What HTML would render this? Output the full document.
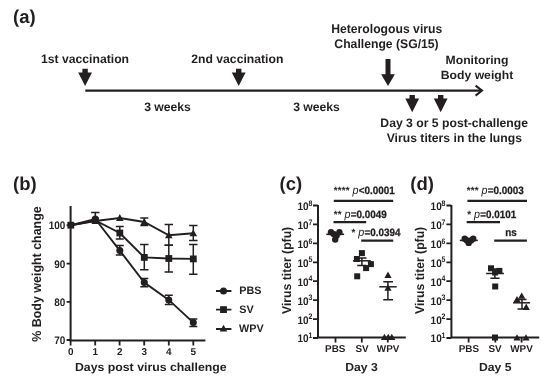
<!DOCTYPE html>
<html lang="en">
<head>
<meta charset="utf-8">
<title>Figure</title>
<style>
html,body{margin:0;padding:0;background:#fff;}
svg{display:block;will-change:transform;}
text{text-rendering:geometricPrecision;font-family:"Liberation Sans",Arial,sans-serif;font-weight:bold;fill:#231f20;}
.lbl{font-size:18.5px;}
.t{font-size:12.2px;}
.ax{font-size:9.95px;}
.axt{font-size:12.2px;}
.st{font-size:9.9px;stroke:#231f20;stroke-width:0.25px;}
.as{font-size:9.8px;letter-spacing:0.15px;stroke:none;}
.sup{font-size:7px;}
.ln{stroke:#231f20;fill:none;}
.sh{fill:#231f20;stroke:none;}
.it{font-style:italic;font-weight:normal;font-size:10.8px;stroke:none;}
</style>
</head>
<body>
<svg width="550" height="379" viewBox="0 0 550 379">
<rect x="0" y="0" width="550" height="379" fill="#ffffff"/>
<defs>
  <path id="arr" d="M-2.7,-8.5 h5.4 v3.6 h4.2 l-6.9,13.6 l-6.9,-13.6 h4.2 z"/>
  <circle id="ci" r="3.5"/>
  <rect id="sq" x="-3.4" y="-3.4" width="6.8" height="6.8"/>
  <path id="tr" d="M0,-3.9 L3.8,2.9 L-3.8,2.9 Z"/>
  <circle id="ci2" r="3.2"/>
  <rect id="sq2" x="-3" y="-3" width="6" height="6"/>
  <path id="tr2" d="M0,-3.6 L3.6,2.7 L-3.6,2.7 Z"/>
</defs>

<!-- ================= panel (a) ================= -->
<g id="panel-a">
  <text class="lbl" x="13" y="22.8">(a)</text>
  <text class="t" transform="translate(85,62.6) scale(1,1)" text-anchor="middle">1st vaccination</text>
  <text class="t" transform="translate(237.3,62.6) scale(1,1)" text-anchor="middle">2nd vaccination</text>
  <text class="t" transform="translate(386.7,33) scale(1,1.03)" text-anchor="middle">Heterologous virus</text>
  <text class="t" transform="translate(386.5,48.3) scale(1,1.03)" text-anchor="middle">Challenge (SG/15)</text>
  <text class="t" transform="translate(477,64.4) scale(1,0.97)" text-anchor="middle">Monitoring</text>
  <text class="t" transform="translate(477,79.3) scale(1,0.97)" text-anchor="middle">Body weight</text>
  <text class="t" transform="translate(167.5,111) scale(1,1)" text-anchor="middle">3 weeks</text>
  <text class="t" transform="translate(316.5,111) scale(1,1)" text-anchor="middle">3 weeks</text>
  <text class="t" transform="translate(454.2,127.3) scale(1,1)" text-anchor="middle">Day 3 or 5 post-challenge</text>
  <text class="t" transform="translate(454.3,142.3) scale(1,1)" text-anchor="middle">Virus titers in the lungs</text>
  <!-- timeline -->
  <line class="ln" x1="85.3" y1="90.6" x2="481" y2="90.6" stroke-width="2.3"/>
  <path class="ln" d="M475.6,85.6 L482,90.6 L475.6,95.6" stroke-width="2"/>
  <use href="#arr" class="sh" x="85.1" y="77.3"/>
  <use href="#arr" class="sh" x="238.7" y="77.3"/>
  <path class="sh" d="M385.5,59 h5 v15.2 h4.4 l-6.9,11.8 l-6.9,-11.8 h4.4 z"/>
  <use href="#arr" class="sh" x="412.2" y="103.5"/>
  <use href="#arr" class="sh" x="440.7" y="103.5"/>
</g>

<!-- ================= panel (b) ================= -->
<g id="panel-b">
  <text class="lbl" x="13" y="190.1">(b)</text>
  <!-- axes -->
  <path class="ln" d="M70.6,206 V340.4 H205.4" stroke-width="2"/>
  <g class="ln" stroke-width="1.8">
    <path d="M66.6,225.2 H70.8 M66.6,263.6 H70.8 M66.6,301.9 H70.8 M66.6,340 H70.8"/>
    <path d="M70.6,340.4 V345.4 M95.2,340.4 V345.4 M119.6,340.4 V345.4 M144.2,340.4 V345.4 M168.8,340.4 V345.4 M193.3,340.4 V345.4"/>
  </g>
  <g class="ax" text-anchor="end">
    <text transform="translate(65.4,229.2) scale(1,1.1)">100</text>
    <text transform="translate(65.4,267.6) scale(1,1.1)">90</text>
    <text transform="translate(65.4,305.9) scale(1,1.1)">80</text>
    <text transform="translate(65.4,344) scale(1,1.1)">70</text>
  </g>
  <g class="ax" text-anchor="middle">
    <text transform="translate(70.8,355.4) scale(1,1)">0</text>
    <text transform="translate(95.3,355.4) scale(1,1)">1</text>
    <text transform="translate(119.8,355.4) scale(1,1)">2</text>
    <text transform="translate(144.3,355.4) scale(1,1)">3</text>
    <text transform="translate(168.8,355.4) scale(1,1)">4</text>
    <text transform="translate(193.3,355.4) scale(1,1)">5</text>
  </g>
  <text class="axt" style="font-size:12.3px" transform="translate(150.8,371.3) scale(1,0.95)" text-anchor="middle">Days post virus challenge</text>
  <text class="axt" style="font-size:12.45px" transform="translate(41.3,274) rotate(-90) scale(1,1.04)" text-anchor="middle">% Body weight change</text>

  <!-- WPV -->
  <g class="ln" stroke-width="1.5">
    <polyline points="70.8,225.2 95.3,221 119.8,218 144.3,222 168.8,235.3 193.3,233.3" stroke-width="1.9"/>
    <path d="M144.3,218 V225.5 M140.3,218 H148.3 M140.3,225.5 H148.3"/>
    <path d="M168.8,224.5 V245.3 M164.6,224.5 H173 M164.6,245.3 H173"/>
    <path d="M193.3,225.4 V240.5 M189.1,225.4 H197.5 M189.1,240.5 H197.5"/>
  </g>
  <!-- SV -->
  <g class="ln" stroke-width="1.5">
    <polyline points="70.8,225.2 95.3,220.5 119.8,233 144.3,257.4 168.8,258.5 193.3,258.9" stroke-width="1.9"/>
    <path d="M119.8,226.6 V239 M115.8,226.6 H123.8 M115.8,239 H123.8"/>
    <path d="M144.3,244.4 V269.7 M140.1,244.4 H148.5 M140.1,269.7 H148.5"/>
    <path d="M168.8,245.3 V272 M164.6,245.3 H173 M164.6,272 H173"/>
    <path d="M193.3,244.4 V274.2 M189.1,244.4 H197.5 M189.1,274.2 H197.5"/>
  </g>
  <!-- PBS -->
  <g class="ln" stroke-width="1.5">
    <polyline points="70.8,225.2 95.3,219 119.8,250.6 144.3,282.6 168.8,299.9 193.3,322.6" stroke-width="1.9"/>
    <path d="M95.3,212.4 V219 M91.1,212.4 H99.5"/>
    <path d="M119.8,245.6 V255 M115.8,245.6 H123.8 M115.8,255 H123.8"/>
    <path d="M144.3,278.6 V286.7 M140.3,278.6 H148.3 M140.3,286.7 H148.3"/>
    <path d="M168.8,295.3 V304.5 M164.8,295.3 H172.8 M164.8,304.5 H172.8"/>
    <path d="M193.3,318.9 V326.4 M189.3,318.9 H197.3 M189.3,326.4 H197.3"/>
  </g>
  <g class="sh">
    <use href="#tr" x="95.3" y="221"/><use href="#tr" x="119.8" y="218"/><use href="#tr" x="144.3" y="222"/><use href="#tr" x="168.8" y="235.3"/><use href="#tr" x="193.3" y="233.3"/>
    <use href="#sq" x="70.8" y="225.2"/><use href="#sq" x="95.3" y="220.5"/><use href="#sq" x="119.8" y="233"/><use href="#sq" x="144.3" y="257.4"/><use href="#sq" x="168.8" y="258.5"/><use href="#sq" x="193.3" y="258.9"/>
    <use href="#ci" x="95.3" y="219"/><use href="#ci" x="119.8" y="250.6"/><use href="#ci" x="144.3" y="282.6"/><use href="#ci" x="168.8" y="299.9"/><use href="#ci" x="193.3" y="322.6"/>
  </g>
  <!-- legend -->
  <g class="ln" stroke-width="1.8">
    <path d="M216,291 H231.4 M216,309.6 H231.4 M216,329 H231.4"/>
  </g>
  <g class="sh">
    <use href="#ci" x="223.5" y="291"/>
    <use href="#sq" x="223.5" y="309.6"/>
    <use href="#tr" x="223.5" y="328.6"/>
  </g>
  <g class="ax" style="font-size:10.8px">
    <text transform="translate(239.2,294.4) scale(1,1)">PBS</text>
    <text transform="translate(239.2,313.2) scale(1,1)">SV</text>
    <text transform="translate(239.0,332.4) scale(1,1)">WPV</text>
  </g>
</g>

<!-- ================= panel (c) ================= -->
<g id="panel-c">
  <text class="lbl" x="279.5" y="190.1">(c)</text>
  <path class="ln" d="M318,205 V337.6 H405.8" stroke-width="2"/>
  <g class="ln" stroke-width="1.8">
    <path d="M313,205.5 H318 M313,224.4 H318 M313,243.4 H318 M313,262.3 H318 M313,281.2 H318 M313,300.1 H318 M313,319.1 H318 M313,338 H318"/>
    <path d="M335.5,337.6 V342.4 M361.8,337.6 V342.4 M387.8,337.6 V342.4"/>
  </g>
  <g class="ax" text-anchor="end" style="font-size:10px">
    <text transform="translate(308.5,209.9) scale(1,1.1)">10</text><text transform="translate(308.5,228.8) scale(1,1.1)">10</text><text transform="translate(308.5,247.8) scale(1,1.1)">10</text><text transform="translate(308.5,266.7) scale(1,1.1)">10</text>
    <text transform="translate(308.5,285.6) scale(1,1.1)">10</text><text transform="translate(308.5,304.5) scale(1,1.1)">10</text><text transform="translate(308.5,323.5) scale(1,1.1)">10</text><text transform="translate(308.5,342.4) scale(1,1.1)">10</text>
  </g>
  <g class="sup">
    <text transform="translate(308.4,205.6) scale(1,1.15)">8</text><text transform="translate(308.4,224.5) scale(1,1.15)">7</text><text transform="translate(308.4,243.5) scale(1,1.15)">6</text><text transform="translate(308.4,262.4) scale(1,1.15)">5</text>
    <text transform="translate(308.4,281.3) scale(1,1.15)">4</text><text transform="translate(308.4,300.2) scale(1,1.15)">3</text><text transform="translate(308.4,319.2) scale(1,1.15)">2</text><text transform="translate(308.4,337.5) scale(1,1.15)">1</text>
  </g>
  <text class="axt" transform="translate(290.6,270.4) rotate(-90) scale(1,1.04)" text-anchor="middle">Virus titer (pfu)</text>
  <g class="ax" text-anchor="middle" style="font-size:9.9px">
    <text transform="translate(335.2,351.6) scale(1,1)">PBS</text><text transform="translate(362.0,351.6) scale(1,1)">SV</text><text transform="translate(388.1,351.6) scale(1,1)">WPV</text>
  </g>
  <text class="axt" transform="translate(361.5,370.7) scale(1,0.95)" text-anchor="middle">Day 3</text>
  <!-- stats -->
  <text class="st" transform="translate(333.8,194.3) scale(1,1.08)"><tspan class="as">****</tspan> <tspan class="it">p</tspan><tspan dx="0.3">&lt;0.0001</tspan></text>
  <text class="st" transform="translate(333.8,218.2) scale(1,1.08)"><tspan class="as">**</tspan> <tspan class="it">p</tspan><tspan dx="0.3">=0.0049</tspan></text>
  <text class="st" transform="translate(351.5,236.4) scale(1,1.08)"><tspan class="as">*</tspan> <tspan class="it">p</tspan><tspan dx="0.3">=0.0394</tspan></text>
  <g class="ln" stroke-width="2.2">
    <path d="M333.8,200.8 H393.2 M333.5,222.2 H366.2 M361.2,240.6 H393.2"/>
  </g>
  <!-- PBS -->
  <g class="sh">
    <use href="#ci2" x="331" y="232.2"/><use href="#ci2" x="339.4" y="232.2"/><use href="#ci2" x="334" y="234.3"/><use href="#ci2" x="336.6" y="235.5"/><use href="#ci2" x="335.2" y="239.6"/>
  </g>
  <path class="ln" d="M326.3,234.3 H344.1" stroke-width="1.6"/>
  <!-- SV -->
  <g class="ln" stroke-width="1.5">
    <path d="M352.9,260.8 H370.8"/>
    <path d="M361.9,257.9 V265.5 M357.2,257.9 H366.5 M357.2,265.5 H366.5" />
  </g>
  <g class="sh">
    <use href="#sq2" x="361.9" y="253.1"/><use href="#sq2" x="356.9" y="259"/><use href="#sq2" x="370.9" y="264.1"/><use href="#sq2" x="366.1" y="268.1"/><use href="#sq2" x="357.2" y="276.3"/>
  </g>
  <!-- WPV -->
  <g class="sh">
    <use href="#tr2" x="388" y="275.2"/><use href="#tr2" x="388" y="288"/>
    <use href="#tr2" x="384.5" y="337.4"/><use href="#tr2" x="388.2" y="337.4"/><use href="#tr2" x="391.8" y="337.4"/>
  </g>
  <g class="ln" stroke-width="1.5">
    <path d="M379.3,286.8 H396.7"/>
    <path d="M387.9,281.8 V299.8 M383.3,281.8 H393 M383.3,299.8 H393"/>
  </g>
</g>

<!-- ================= panel (d) ================= -->
<g id="panel-d">
  <text class="lbl" x="410.3" y="190.1">(d)</text>
  <path class="ln" d="M451.4,205 V337.6 H539.2" stroke-width="2"/>
  <g class="ln" stroke-width="1.8">
    <path d="M446.4,205.5 H451.3 M446.4,224.4 H451.3 M446.4,243.4 H451.3 M446.4,262.3 H451.3 M446.4,281.2 H451.3 M446.4,300.1 H451.3 M446.4,319.1 H451.3 M446.4,338 H451.3"/>
    <path d="M468.6,337.6 V342.4 M495.3,337.6 V342.4 M521.6,337.6 V342.4"/>
  </g>
  <g class="ax" text-anchor="end" style="font-size:10px">
    <text transform="translate(441.7,209.9) scale(1,1.1)">10</text><text transform="translate(441.7,228.8) scale(1,1.1)">10</text><text transform="translate(441.7,247.8) scale(1,1.1)">10</text><text transform="translate(441.7,266.7) scale(1,1.1)">10</text>
    <text transform="translate(441.7,285.6) scale(1,1.1)">10</text><text transform="translate(441.7,304.5) scale(1,1.1)">10</text><text transform="translate(441.7,323.5) scale(1,1.1)">10</text><text transform="translate(441.7,342.4) scale(1,1.1)">10</text>
  </g>
  <g class="sup">
    <text transform="translate(441.6,205.6) scale(1,1.15)">8</text><text transform="translate(441.6,224.5) scale(1,1.15)">7</text><text transform="translate(441.6,243.5) scale(1,1.15)">6</text><text transform="translate(441.6,262.4) scale(1,1.15)">5</text>
    <text transform="translate(441.6,281.3) scale(1,1.15)">4</text><text transform="translate(441.6,300.2) scale(1,1.15)">3</text><text transform="translate(441.6,319.2) scale(1,1.15)">2</text><text transform="translate(441.6,337.5) scale(1,1.15)">1</text>
  </g>
  <text class="axt" transform="translate(424.1,270.4) rotate(-90) scale(1,1.04)" text-anchor="middle">Virus titer (pfu)</text>
  <g class="ax" text-anchor="middle" style="font-size:9.9px">
    <text transform="translate(468.9,351.7) scale(1,1)">PBS</text><text transform="translate(495.0,351.7) scale(1,1)">SV</text><text transform="translate(521.5,351.7) scale(1,1)">WPV</text>
  </g>
  <text class="axt" transform="translate(495.3,370.8) scale(1,0.95)" text-anchor="middle">Day 5</text>
  <!-- stats -->
  <text class="st" transform="translate(466.8,194.3) scale(1,1.08)"><tspan class="as">***</tspan> <tspan class="it">p</tspan><tspan dx="0.3">=0.0003</tspan></text>
  <text class="st" transform="translate(467.2,218.0) scale(1,1.08)"><tspan class="as">*</tspan> <tspan class="it">p</tspan><tspan dx="0.3">=0.0101</tspan></text>
  <text class="st" transform="translate(505.2,236.4) scale(1,1.08)">ns</text>
  <g class="ln" stroke-width="2.2">
    <path d="M467.4,200.8 H527 M466.7,222.1 H500 M494.2,240.7 H526.9"/>
  </g>
  <!-- PBS -->
  <g class="sh">
    <use href="#ci2" x="464.7" y="238.8"/><use href="#ci2" x="473.2" y="238.8"/><use href="#ci2" x="467" y="240.4"/><use href="#ci2" x="471" y="240.4"/><use href="#ci2" x="468.7" y="242.9"/>
  </g>
  <path class="ln" d="M459.8,240.4 H477.8" stroke-width="1.6"/>
  <!-- SV -->
  <g class="ln" stroke-width="1.5">
    <path d="M486.1,273.5 H503.9"/>
    <path d="M494.9,269 V278.2 M490.4,269 H499.6 M490.4,278.2 H499.6"/>
  </g>
  <g class="sh">
    <use href="#sq2" x="491" y="268.3"/><use href="#sq2" x="499.4" y="270.9"/><use href="#sq2" x="495.1" y="272.5"/><use href="#sq2" x="495.2" y="286.5"/><use href="#sq2" x="495" y="337.5"/>
  </g>
  <!-- WPV -->
  <g class="ln" stroke-width="1.5">
    <path d="M513.1,302.8 H530.1"/>
    <path d="M522,299.4 V308.9 M517.5,299.4 H526.5 M517.5,308.9 H526.5"/>
  </g>
  <g class="sh">
    <use href="#tr2" x="521.7" y="296"/><use href="#tr2" x="517" y="299.5"/><use href="#tr2" x="526.2" y="307.2"/>
    <use href="#tr2" x="517" y="337.8"/><use href="#tr2" x="526" y="337.8"/>
  </g>
</g>
</svg>
</body>
</html>
